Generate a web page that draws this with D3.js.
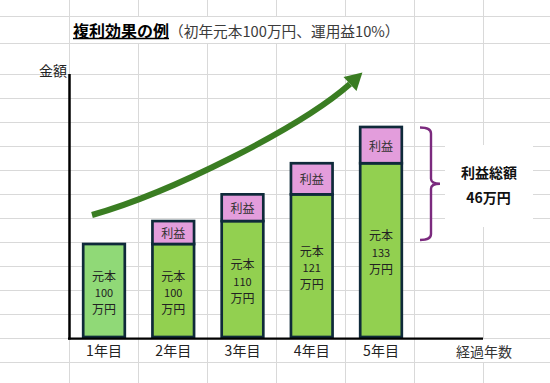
<!DOCTYPE html>
<html><head><meta charset="utf-8">
<script src="https://cdn.jsdelivr.net/npm/d3@7"></script>
<style>
html,body{margin:0;padding:0;background:#fff;}
svg{display:block;font-family:"Noto Sans CJK JP","Noto Sans",sans-serif;}
</style></head>
<body><svg id="c" width="550" height="383"></svg>
<script>
// ---- data ----
const years = ["1年目","2年目","3年目","4年目","5年目"];
const principal = [100, 100, 110, 121, 133.1];
const profit = [0, 10, 11, 12.1, 13.31];
const principalLabels = ["100","100","110","121","133"];
const principalFill = ["#90d977","#92d050","#92d050","#92d050","#92d050"];
const totalProfitLabel = "46万円";
const titleMain = "複利効果の例";
const titleSub = "（初年元本100万円、運用益10%）";
const yLabel = "金額";
const xLabel = "経過年数";

const svg = d3.select("#c");
const W = 550, H = 383;

// ---- spreadsheet grid background ----
const gridCols = d3.range(1, 8).map(k => 69 * k);
const gridRows = [16, 43].concat(d3.range(74, H, 24));
const grid = svg.append("g").attr("shape-rendering","crispEdges");
grid.selectAll(".v").data(gridCols).join("line")
  .attr("x1", d => d + 0.5).attr("x2", d => d + 0.5).attr("y1", 0).attr("y2", H)
  .attr("stroke", "#d9d9d9").attr("stroke-width", 1);
grid.selectAll(".h").data(gridRows).join("line")
  .attr("y1", d => d + 0.5).attr("y2", d => d + 0.5).attr("x1", 0).attr("x2", W)
  .attr("stroke", "#d9d9d9").attr("stroke-width", 1);
// text overflow masks (cells hide grid lines)
grid.append("rect").attr("x", 70).attr("y", 17).attr("width", 344).attr("height", 26).attr("fill", "#fff");
grid.append("rect").attr("x", 415).attr("y", 339).attr("width", 135).attr("height", 23).attr("fill", "#fff");

// ---- scales ----
const base = 337;
const xBar = d3.scalePoint().domain(years).range([104, 381]);
const barW = 41.6;
const y = d3.scalePow().exponent(1.6).domain([50.2, 146.41]).range([base, 127]);

// ---- title ----
const title = svg.append("text").attr("x", 73).attr("y", 37)
  .attr("font-size", 16).attr("fill", "#000");
const tMain = title.append("tspan").attr("font-weight", "bold").text(titleMain);
title.append("tspan").attr("font-size", 14.7).attr("fill", "#3b3b3b").text(titleSub);
const mainLen = tMain.node().getComputedTextLength();
svg.append("line").attr("x1", 73).attr("x2", 73 + mainLen).attr("y1", 38.5).attr("y2", 38.5)
  .attr("stroke", "#000").attr("stroke-width", 1.4);

// ---- axis labels ----
svg.append("text").attr("x", 67).attr("y", 70).attr("text-anchor", "end")
  .attr("dominant-baseline", "central").attr("font-size", 14).attr("fill", "#222").text(yLabel);
svg.append("text").attr("x", 484).attr("y", 351).attr("text-anchor", "middle")
  .attr("dominant-baseline", "central").attr("font-size", 14).attr("fill", "#333").text(xLabel);

// ---- arrow ----
const p0 = [92, 215], p1 = [170, 193], p2 = [300, 128], p3 = [350, 84];
const arrowColor = "#3a7d22";
svg.append("path")
  .attr("d", `M${p0}C${p1} ${p2} ${p3}`)
  .attr("fill", "none").attr("stroke", arrowColor).attr("stroke-width", 6);
{
  let dx = p3[0] - p2[0] + 10, dy = p3[1] - p2[1] - 12;
  const L = Math.hypot(dx, dy); dx /= L; dy /= L;
  const tip = [p3[0] + dx * 17, p3[1] + dy * 17];
  const w1 = [p3[0] - dy * 9.5, p3[1] + dx * 9.5];
  const w2 = [p3[0] + dy * 9.5, p3[1] - dx * 9.5];
  svg.append("path").attr("d", `M${tip}L${w1}L${w2}Z`).attr("fill", arrowColor);
}

// ---- bars ----
const stroke = "#0f2a3a";
const bars = svg.append("g");
years.forEach((yr, i) => {
  const cx = xBar(yr);
  const topP = y(principal[i]);
  bars.append("rect").attr("x", cx - barW / 2).attr("y", topP)
    .attr("width", barW).attr("height", y.range()[0] - topP)
    .attr("fill", principalFill[i]).attr("stroke", stroke).attr("stroke-width", 2.7);
  if (profit[i] > 0) {
    const topT = y(principal[i] + profit[i]);
    bars.append("rect").attr("x", cx - barW / 2).attr("y", topT)
      .attr("width", barW).attr("height", topP - topT)
      .attr("fill", "#e39ddc").attr("stroke", stroke).attr("stroke-width", 2.7);
    bars.append("text").attr("x", cx).attr("y", (topT + topP) / 2)
      .attr("text-anchor", "middle").attr("dominant-baseline", "central")
      .attr("font-size", 12).attr("fill", "#333").text("利益");
  }
  const mid = (topP + base) / 2 + 1.5;
  const lines = [["元本", 12], [principalLabels[i], 11], ["万円", 12]];
  lines.forEach((l, j) => {
    bars.append("text").attr("x", cx).attr("y", mid + (j - 1) * 16.8)
      .attr("text-anchor", "middle").attr("dominant-baseline", "central")
      .attr("font-size", l[1]).attr("fill", "#222").text(l[0]);
  });
});

// ---- axes ----
svg.append("line").attr("x1", 69.5).attr("x2", 69.5).attr("y1", 74).attr("y2", 339.6)
  .attr("stroke", "#000").attr("stroke-width", 2.5);
svg.append("line").attr("x1", 68).attr("x2", 483).attr("y1", 338.6).attr("y2", 338.6)
  .attr("stroke", "#000").attr("stroke-width", 2.2);
svg.append("g").selectAll("text").data(years).join("text")
  .attr("x", d => xBar(d)).attr("y", 349.5).attr("text-anchor", "middle")
  .attr("dominant-baseline", "central").attr("font-size", 14).attr("fill", "#222").text(d => d);

// ---- bracket and total profit ----
{
  const top = y(principal[4] + profit[4]) + 0.5;
  const bot = y(principal[0]) - 4;
  const midY = (top + bot) / 2;
  const bx = 431;
  svg.append("path")
    .attr("d", `M420,${top} Q${bx},${top} ${bx},${top + 6} L${bx},${midY - 5} Q${bx},${midY} ${bx + 9},${midY}` +
      ` Q${bx},${midY} ${bx},${midY + 5} L${bx},${bot - 6} Q${bx},${bot} 420,${bot}`)
    .attr("fill", "none").attr("stroke", "#7b2a7e").attr("stroke-width", 2.4);
  svg.append("rect").attr("x", 445).attr("y", 145).attr("width", 88).attr("height", 82).attr("fill", "#fff");
  svg.append("text").attr("x", 489).attr("y", 171.5).attr("text-anchor", "middle")
    .attr("dominant-baseline", "central").attr("font-size", 14).attr("font-weight", "bold")
    .attr("fill", "#111").text("利益総額");
  svg.append("text").attr("x", 488.5).attr("y", 196.5).attr("text-anchor", "middle")
    .attr("dominant-baseline", "central").attr("font-size", 14).attr("font-weight", "bold")
    .attr("fill", "#111").text(totalProfitLabel);
}
</script></body></html>
